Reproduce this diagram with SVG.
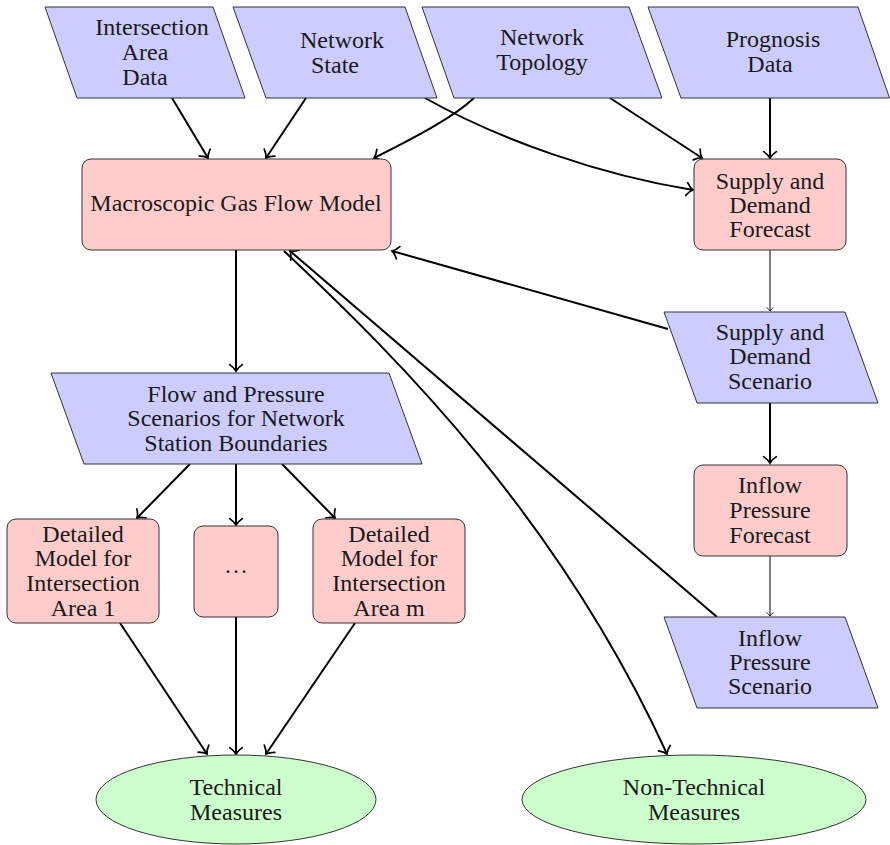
<svg xmlns="http://www.w3.org/2000/svg" width="890" height="845" viewBox="0 0 890 845" style="font-family:'Liberation Serif',serif">
<style>
svg text, svg g text, text{font-family:"Liberation Serif",serif !important;font-size:24px;text-anchor:middle;fill:#1a1a1a}
.data{fill:#ccccff;stroke:#333;stroke-width:1}
.proc{fill:#ffcccc;stroke:#333;stroke-width:1}
.res{fill:#ccffcc;stroke:#333;stroke-width:1}
.c{fill:none;stroke:#000;stroke-width:2;marker-end:url(#arr)}
.t{fill:none;stroke:#000;stroke-width:1;marker-end:url(#arr)}
</style>
<defs>
<marker id="arr" viewBox="-5 -5 7 10" markerWidth="7" markerHeight="10" refX="0" refY="0" orient="auto" markerUnits="strokeWidth" overflow="visible">
<path d="M-3.2,-3.2 C-2,-1.4 -0.8,-0.4 0,0 C-0.8,0.4 -2,1.4 -3.2,3.2" fill="none" stroke="#000" stroke-width="0.85" stroke-linecap="round"/>
</marker>
</defs>

<g id="connectors">
<path class="c" d="M172 98 L208 158"/>
<path class="c" d="M306 98 L266 158"/>
<path class="c" d="M474 98 C455 116 420 135 374 158"/>
<path class="c" d="M425 98 C500 140 600 175 693 190"/>
<path class="c" d="M610 98 L702 158"/>
<path class="c" d="M770 98 L770 158"/>
<path class="c" d="M236 250 L236 371"/>
<path class="t" d="M770 250 L770 311"/>
<path class="c" d="M668 329 L392 251"/>
<path class="c" d="M770 403 L770 463"/>
<path class="t" d="M770 556 L770 616"/>
<path class="c" d="M717 617 L290 251"/>
<path class="c" d="M284 251 C400 360 560 520 667 754"/>
<path class="c" d="M190 464 L137 518"/>
<path class="c" d="M236 464 L236 525"/>
<path class="c" d="M282 464 L335 518"/>
<path class="c" d="M120 623 L207 754"/>
<path class="c" d="M236 617 L236 754"/>
<path class="c" d="M355 623 L266 754"/>
</g>

<g id="intersection-area-data">
<path class="data" d="M45 7 L213 7 L245 98 L77 98 Z"/>
<text x="152" y="35" style="font-family:'Liberation Serif',serif !important">Intersection</text>
<text x="145" y="60" style="font-family:'Liberation Serif',serif !important">Area</text>
<text x="145" y="85" style="font-family:'Liberation Serif',serif !important">Data</text>
</g>

<g id="network-state">
<path class="data" d="M233 7 L405 7 L437 98 L266 98 Z"/>
<text x="342" y="48" style="font-family:'Liberation Serif',serif !important">Network</text>
<text x="335" y="73" style="font-family:'Liberation Serif',serif !important">State</text>
</g>

<g id="network-topology">
<path class="data" d="M422 7 L629 7 L662 98 L454 98 Z"/>
<text x="542" y="45" style="font-family:'Liberation Serif',serif !important">Network</text>
<text x="542" y="70" style="font-family:'Liberation Serif',serif !important">Topology</text>
</g>

<g id="prognosis-data">
<path class="data" d="M648 7 L858 7 L889.5 98 L681 98 Z"/>
<text x="773" y="47" style="font-family:'Liberation Serif',serif !important">Prognosis</text>
<text x="770" y="72" style="font-family:'Liberation Serif',serif !important">Data</text>
</g>

<g id="macroscopic-model">
<rect class="proc" x="82" y="159" width="309" height="91" rx="9"/>
<text x="236" y="211" style="font-family:'Liberation Serif',serif !important">Macroscopic Gas Flow Model</text>
</g>

<g id="supply-demand-forecast">
<rect class="proc" x="694" y="159" width="152" height="91" rx="9"/>
<text x="770" y="189" style="font-family:'Liberation Serif',serif !important">Supply and</text>
<text x="770" y="213" style="font-family:'Liberation Serif',serif !important">Demand</text>
<text x="770" y="237" style="font-family:'Liberation Serif',serif !important">Forecast</text>
</g>

<g id="supply-demand-scenario">
<path class="data" d="M664 312 L845 312 L878 403 L697 403 Z"/>
<text x="770" y="340" style="font-family:'Liberation Serif',serif !important">Supply and</text>
<text x="770" y="364" style="font-family:'Liberation Serif',serif !important">Demand</text>
<text x="770" y="389" style="font-family:'Liberation Serif',serif !important">Scenario</text>
</g>

<g id="flow-pressure-scenarios">
<path class="data" d="M51 373 L389 373 L422 464 L84 464 Z"/>
<text x="236" y="402" style="font-family:'Liberation Serif',serif !important">Flow and Pressure</text>
<text x="236" y="426" style="font-family:'Liberation Serif',serif !important">Scenarios for Network</text>
<text x="236" y="451" style="font-family:'Liberation Serif',serif !important">Station Boundaries</text>
</g>

<g id="inflow-pressure-forecast">
<rect class="proc" x="694" y="465" width="153" height="91" rx="9"/>
<text x="770" y="493" style="font-family:'Liberation Serif',serif !important">Inflow</text>
<text x="770" y="518" style="font-family:'Liberation Serif',serif !important">Pressure</text>
<text x="770" y="543" style="font-family:'Liberation Serif',serif !important">Forecast</text>
</g>

<g id="inflow-pressure-scenario">
<path class="data" d="M664 617 L845 617 L878 708 L697 708 Z"/>
<text x="770" y="646" style="font-family:'Liberation Serif',serif !important">Inflow</text>
<text x="770" y="670" style="font-family:'Liberation Serif',serif !important">Pressure</text>
<text x="770" y="694" style="font-family:'Liberation Serif',serif !important">Scenario</text>
</g>

<g id="detailed-model-1">
<rect class="proc" x="7" y="519" width="152" height="104" rx="9"/>
<text x="83" y="542" style="font-family:'Liberation Serif',serif !important">Detailed</text>
<text x="83" y="566" style="font-family:'Liberation Serif',serif !important">Model for</text>
<text x="83" y="591" style="font-family:'Liberation Serif',serif !important">Intersection</text>
<text x="83" y="616" style="font-family:'Liberation Serif',serif !important">Area 1</text>
</g>

<g id="detailed-model-dots">
<rect class="proc" x="194" y="526" width="84" height="91" rx="9"/>
<text x="236" y="573" style="font-family:'Liberation Serif',serif !important">…</text>
</g>

<g id="detailed-model-m">
<rect class="proc" x="313" y="519" width="152" height="104" rx="9"/>
<text x="389" y="542" style="font-family:'Liberation Serif',serif !important">Detailed</text>
<text x="389" y="566" style="font-family:'Liberation Serif',serif !important">Model for</text>
<text x="389" y="591" style="font-family:'Liberation Serif',serif !important">Intersection</text>
<text x="389" y="616" style="font-family:'Liberation Serif',serif !important">Area m</text>
</g>

<g id="technical-measures">
<ellipse class="res" cx="236" cy="799.5" rx="140" ry="44.5"/>
<text x="236" y="795" style="font-family:'Liberation Serif',serif !important">Technical</text>
<text x="236" y="820" style="font-family:'Liberation Serif',serif !important">Measures</text>
</g>

<g id="non-technical-measures">
<ellipse class="res" cx="694" cy="799.5" rx="172" ry="44.5"/>
<text x="694" y="795" style="font-family:'Liberation Serif',serif !important">Non-Technical</text>
<text x="694" y="820" style="font-family:'Liberation Serif',serif !important">Measures</text>
</g>
</svg>
